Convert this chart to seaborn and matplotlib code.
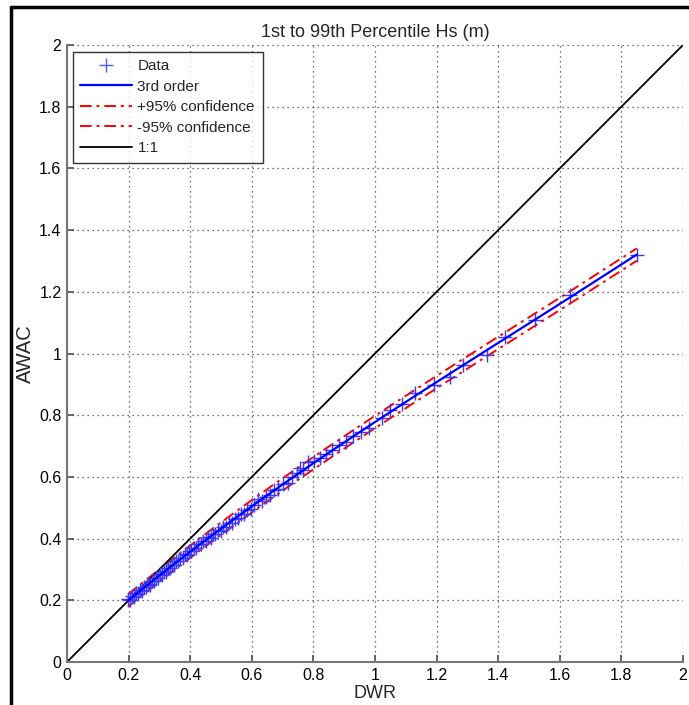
import numpy as np
import pandas as pd
import seaborn as sns
import matplotlib
matplotlib.use("Agg")
import matplotlib.pyplot as plt
from matplotlib.lines import Line2D

# ---- data ----
dwr = [0.198, 0.205, 0.212, 0.218, 0.224, 0.231, 0.237, 0.243, 0.249, 0.256,
       0.262, 0.268, 0.275, 0.281, 0.288, 0.294, 0.301, 0.307, 0.314, 0.320,
       0.327, 0.334, 0.340, 0.347, 0.354, 0.361, 0.368, 0.375, 0.382, 0.389,
       0.396, 0.404, 0.411, 0.419, 0.426, 0.434, 0.442, 0.450, 0.458, 0.466,
       0.474, 0.482, 0.491, 0.499, 0.508, 0.517, 0.526, 0.535, 0.545, 0.555,
       0.565, 0.575, 0.586, 0.597, 0.608, 0.620, 0.632, 0.645, 0.658, 0.672,
       0.686, 0.701, 0.716, 0.732, 0.748, 0.757, 0.765, 0.783, 0.801, 0.820,
       0.840, 0.861, 0.883, 0.906, 0.930, 0.955, 0.982, 1.022, 1.049, 1.088,
       1.130, 1.190, 1.243, 1.287, 1.363, 1.422, 1.520, 1.633, 1.850]
awac = [0.203, 0.201, 0.214, 0.212, 0.224, 0.222, 0.233, 0.231, 0.243, 0.242,
        0.253, 0.251, 0.263, 0.262, 0.273, 0.272, 0.284, 0.283, 0.294, 0.293,
        0.305, 0.304, 0.315, 0.315, 0.327, 0.326, 0.338, 0.337, 0.349, 0.348,
        0.360, 0.360, 0.371, 0.370, 0.382, 0.381, 0.393, 0.392, 0.404, 0.403,
        0.415, 0.414, 0.427, 0.426, 0.439, 0.439, 0.452, 0.452, 0.465, 0.466,
        0.479, 0.480, 0.494, 0.495, 0.509, 0.527, 0.521, 0.536, 0.540, 0.556,
        0.560, 0.577, 0.581, 0.599, 0.612, 0.628, 0.622, 0.649, 0.650, 0.662,
        0.674, 0.688, 0.703, 0.712, 0.733, 0.745, 0.760, 0.790, 0.817, 0.835,
        0.871, 0.898, 0.925, 0.963, 0.995, 1.054, 1.110, 1.190, 1.319]
conf_halfwidth = 0.02
one_to_one = [0, 2]
ticks = [0, 0.2, 0.4, 0.6, 0.8, 1, 1.2, 1.4, 1.6, 1.8, 2]
tick_labels = ["0", "0.2", "0.4", "0.6", "0.8", "1", "1.2", "1.4", "1.6", "1.8", "2"]

# ---- derived (3rd-order fit) ----
x = np.array(dwr)
coef = np.polyfit(x, np.array(awac), 3)
fit = np.polyval(coef, x)
df = pd.DataFrame({"DWR": x, "AWAC": awac, "fit": fit,
                   "up": fit + conf_halfwidth, "lo": fit - conf_halfwidth})

sns.set_theme(style="white")
plt.rcParams["font.family"] = ["Liberation Sans", "DejaVu Sans"]

fig = plt.figure(figsize=(6.89, 7.05), dpi=100)
ax = fig.add_axes([67/689, 43/705, 616/689, 617/705])

dashdot = (0, (6, 2.5, 1.5, 2.5))
sns.scatterplot(data=df, x="DWR", y="AWAC", marker="+", s=95, color="#3a3aff",
                linewidth=1.0, ax=ax, zorder=3, legend=False)
sns.lineplot(data=df, x="DWR", y="fit", color="#0000ff", linewidth=1.6, ax=ax,
             zorder=4, sort=False)
sns.lineplot(data=df, x="DWR", y="up", color="#ff0000", linewidth=1.4,
             linestyle=dashdot, ax=ax, zorder=2, sort=False)
sns.lineplot(data=df, x="DWR", y="lo", color="#ff0000", linewidth=1.4,
             linestyle=dashdot, ax=ax, zorder=2, sort=False)
sns.lineplot(x=one_to_one, y=one_to_one, color="black", linewidth=1.3, ax=ax, zorder=2)

ax.set_xlim(0, 2)
ax.set_ylim(0, 2)
ax.set_xticks(ticks)
ax.set_yticks(ticks)
ax.set_xticklabels(tick_labels, fontsize=11.5)
ax.set_yticklabels(tick_labels, fontsize=11.5)
ax.grid(True, linestyle=(0, (1, 3)), color="#444444", linewidth=0.9)
for s in ["top", "right"]:
    ax.spines[s].set_visible(False)
for s in ["left", "bottom"]:
    ax.spines[s].set_color("#777777")
    ax.spines[s].set_linewidth(1.5)
ax.tick_params(axis="both", direction="in", length=5, color="#555555",
               labelcolor="black", pad=4, bottom=True, left=True)
ax.set_xlabel("DWR", fontsize=13, labelpad=2)
ax.set_ylabel("AWAC", fontsize=14.5, labelpad=3)
ax.set_title("1st to 99th Percentile Hs (m)", fontsize=13, pad=6)

handles = [
    Line2D([], [], color="#5555ff", marker="+", linestyle="None", markersize=10, markeredgewidth=1.0),
    Line2D([], [], color="#0000ff", linewidth=1.6),
    Line2D([], [], color="#ff0000", linewidth=1.4, linestyle=dashdot),
    Line2D([], [], color="#ff0000", linewidth=1.4, linestyle=dashdot),
    Line2D([], [], color="black", linewidth=1.3),
]
labels = ["Data", "3rd order", "+95% confidence", "-95% confidence", "1:1"]
leg = ax.legend(handles, labels, loc="upper left", bbox_to_anchor=(0.009, 0.989),
                borderaxespad=0, fontsize=11, handlelength=3.4, handletextpad=0.35,
                labelspacing=0.42, frameon=True, fancybox=False, borderpad=0.5)
leg.get_frame().set_edgecolor("black")
leg.get_frame().set_linewidth(1.0)

# figure frame (top and left edges visible in the reference)
fig.add_artist(Line2D([11/689, 1.0], [1 - 7/705, 1 - 7/705], transform=fig.transFigure,
                      color="black", linewidth=2.5))
fig.add_artist(Line2D([11/689, 11/689], [0.0, 1 - 7/705], transform=fig.transFigure,
                      color="black", linewidth=2.5))

fig.savefig("out.png", dpi=100)
